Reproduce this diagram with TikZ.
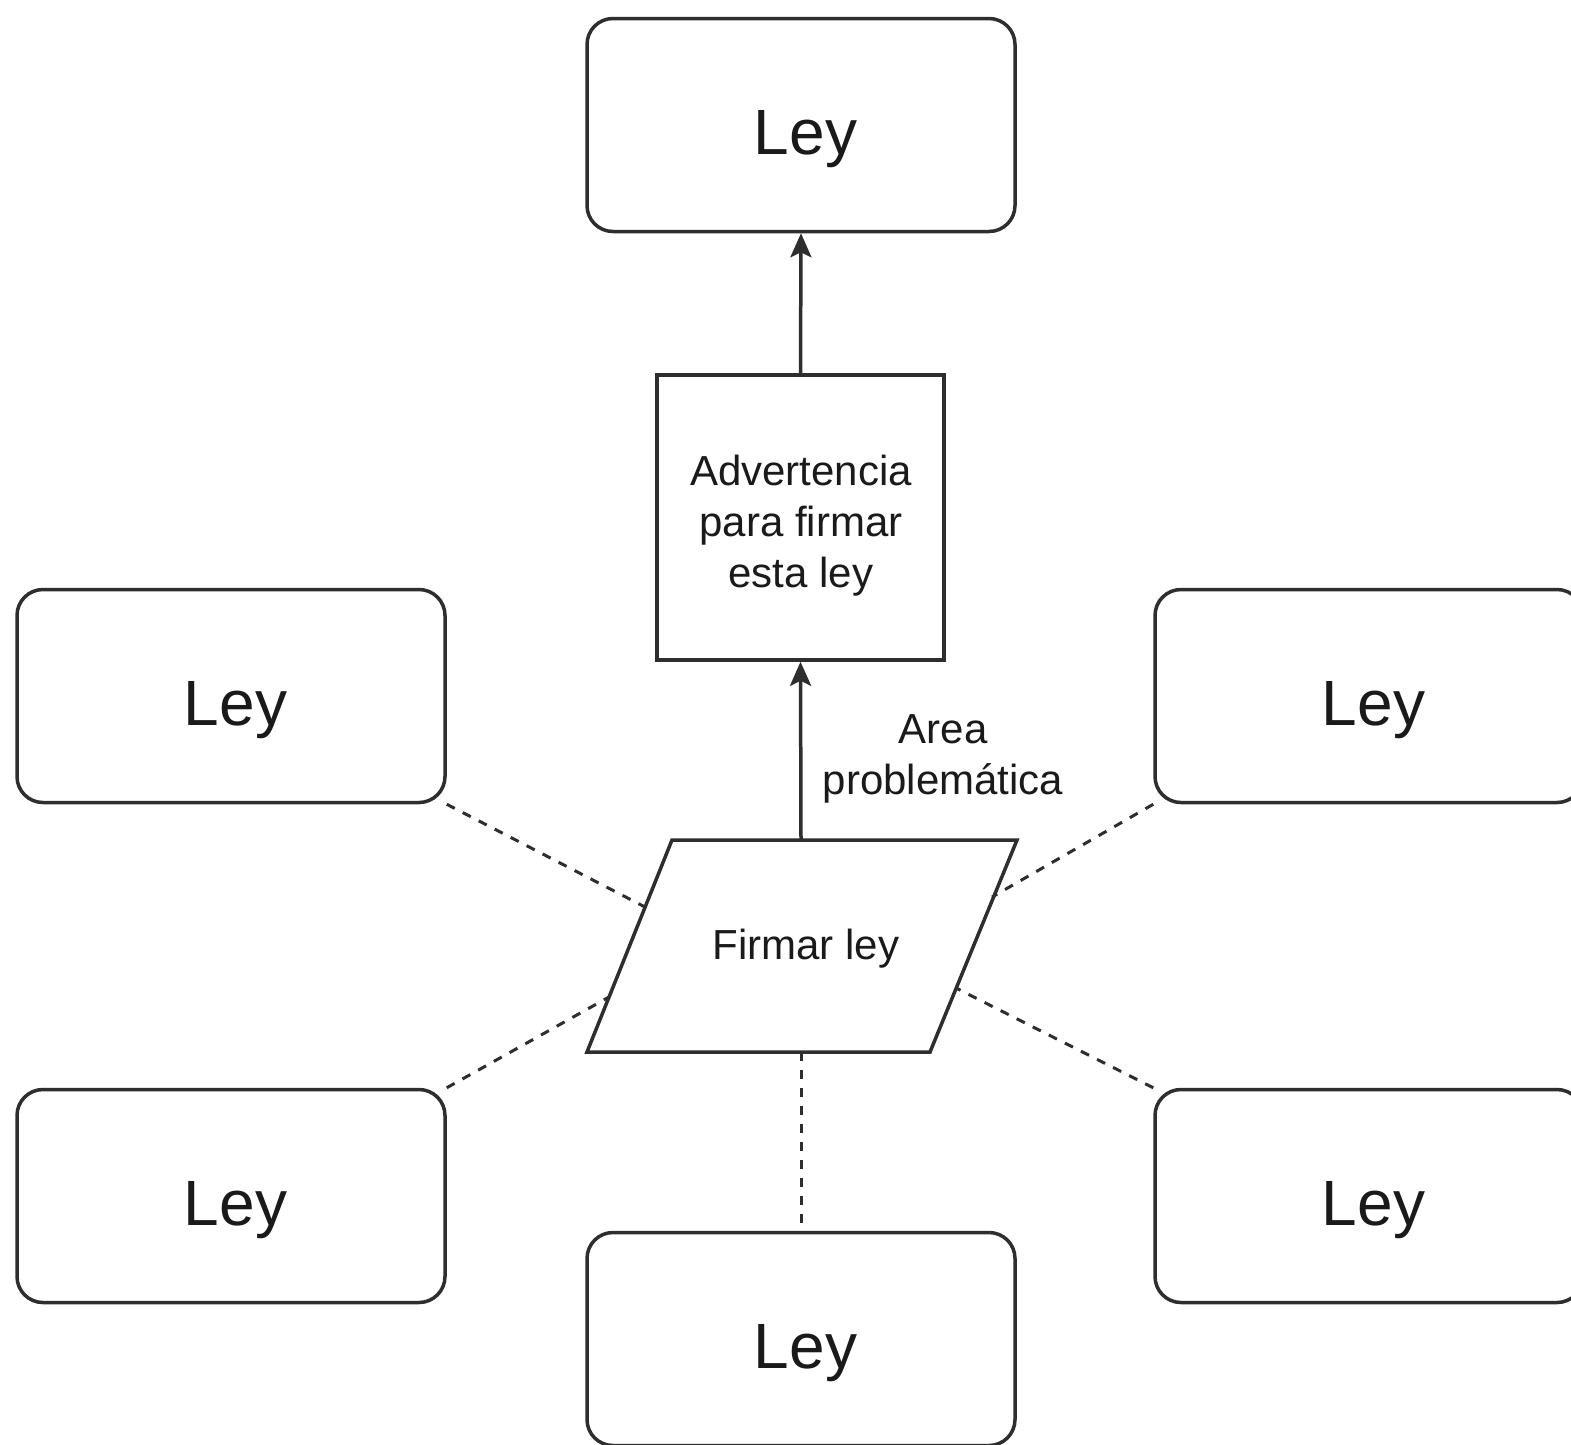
\documentclass[tikz,border=0pt]{standalone}
\usepackage{fontspec}
\setmainfont{Liberation Sans}
\usetikzlibrary{arrows.meta}
\definecolor{linegray}{HTML}{2E2E2E}
\definecolor{textgray}{HTML}{1A1A1A}
\newcommand{\leytext}{\hspace*{9pt}Ley}
\begin{document}
\begin{tikzpicture}[x=1pt,y=-1pt,
  leybox/.style={draw=linegray, line width=3.5pt, rounded corners=26pt,
    minimum width=428pt, minimum height=213pt, inner sep=0pt,
    text=textgray, font=\fontsize{64}{70}\selectfont,
    text height=58pt, text depth=0pt},
  smalltext/.style={text=textgray, font=\fontsize{42}{51}\selectfont},
  advbox/.style={draw=linegray, line width=3.5pt, minimum width=287pt,
    minimum height=285pt, inner sep=0pt},
  shapeline/.style={draw=linegray, line width=3.5pt, line join=miter},
  dashlink/.style={draw=linegray, line width=3pt, dash pattern=on 9pt off 9pt},
  arrowlink/.style={draw=linegray, line width=3.5pt,
    -{Stealth[length=24pt,width=21pt,inset=5pt]}}
]
\clip (0,0) rectangle (1571,1444);
\fill[white] (0,0) rectangle (1571,1444);

% boxes
\node[leybox] (top) at (801,125) {\leytext};
\node[advbox] (adv) at (800.5,517.5) {};
\node[smalltext, align=center] (advtext) at (801,526) {Advertencia\\para firmar\\esta ley};
\node[leybox] (lt) at (231,696) {\leytext};
\node[leybox] (rt) at (1369,696) {\leytext};
\node[leybox] (lb) at (231,1196) {\leytext};
\node[leybox] (rb) at (1369,1196) {\leytext};
\node[leybox] (bot) at (801,1339) {\leytext};

% parallelogram "Firmar ley"
\coordinate (ptl) at (672,840);
\coordinate (ptr) at (1017,840);
\coordinate (pbr) at (930,1052);
\coordinate (pbl) at (587,1052);
\draw[shapeline] (ptl) -- (ptr) -- (pbr) -- (pbl) -- cycle;
\node[smalltext] (para) at (806,949) {Firmar ley};
\coordinate (ptop) at (801,840);
\coordinate (pbot) at (801,1052);
\coordinate (pl1) at (645,907);
\coordinate (pr1) at (992,897);
\coordinate (pl2) at (609,997);
\coordinate (pr2) at (956,988);

\node[smalltext, align=center] (lbl) at (943,759) {Area\\problemática};

\draw[arrowlink] (ptop) -- (adv.south);
\draw[arrowlink] (adv.north) -- (top.south);

\draw[dashlink] (lt.south east) -- (pl1);
\draw[dashlink] (rt.south west) -- (pr1);
\draw[dashlink] (lb.north east) -- (pl2);
\draw[dashlink] (rb.north west) -- (pr2);
\draw[dashlink] (pbot) -- (bot.north);
\end{tikzpicture}
\end{document}
